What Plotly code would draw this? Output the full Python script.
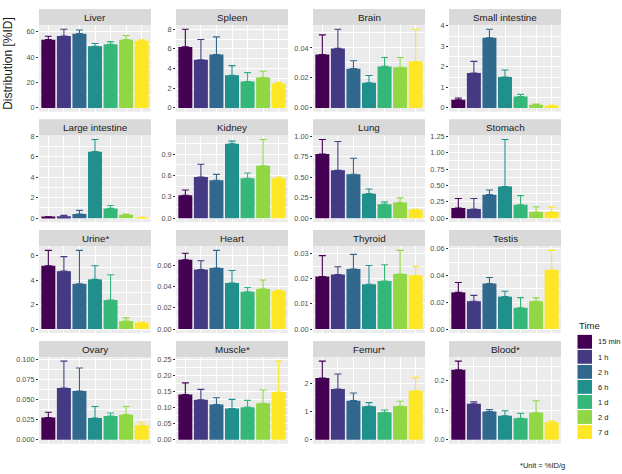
import plotly.graph_objects as go

W, H = 622, 474

times = ["15 min", "1 h", "2 h", "6 h", "1 d", "2 d", "7 d"]
colors = ["#440154", "#443A83", "#31688E", "#21908C", "#35B779", "#8FD744", "#FDE725"]

organs = ["Liver", "Spleen", "Brain", "Small intestine",
          "Large intestine", "Kidney", "Lung", "Stomach",
          "Urine*", "Heart", "Thyroid", "Testis",
          "Ovary", "Muscle*", "Femur*", "Blood*"]

liver_mean = [53.7, 56.6, 58.4, 48.5, 50.0, 53.7, 52.7]
liver_sd = [2.7, 5.3, 2.9, 2.1, 2.1, 3.2, 0.8]
spleen_mean = [6.2, 4.9, 5.42, 3.32, 2.68, 3.08, 2.47]
spleen_sd = [1.8, 2.05, 1.8, 0.98, 0.91, 0.65, 0.13]
brain_mean = [0.0356, 0.0397, 0.0262, 0.0168, 0.0277, 0.0271, 0.031]
brain_sd = [0.0131, 0.0128, 0.0053, 0.0048, 0.0059, 0.0065, 0.0215]
smallint_mean = [0.40, 1.70, 3.42, 1.51, 0.56, 0.16, 0.10]
smallint_sd = [0.08, 0.57, 0.42, 0.34, 0.10, 0.03, 0.03]
largeint_mean = [0.10, 0.19, 0.42, 6.5, 0.96, 0.35, 0.05]
largeint_sd = [0.03, 0.10, 0.35, 1.18, 0.29, 0.07, 0.05]
kidney_mean = [0.323, 0.581, 0.535, 1.048, 0.563, 0.738, 0.563]
kidney_sd = [0.074, 0.18, 0.083, 0.037, 0.074, 0.37, 0.017]
lung_mean = [0.784, 0.584, 0.536, 0.30, 0.172, 0.192, 0.104]
lung_sd = [0.176, 0.352, 0.196, 0.056, 0.028, 0.056, 0.006]
stomach_mean = [0.155, 0.14, 0.36, 0.485, 0.205, 0.095, 0.095]
stomach_sd = [0.145, 0.16, 0.07, 0.715, 0.14, 0.08, 0.075]
urine_mean = [5.17, 4.73, 3.69, 4.06, 2.37, 0.65, 0.51]
urine_sd = [1.26, 1.19, 2.74, 1.11, 2.07, 0.26, 0.06]
heart_mean = [0.0656, 0.0563, 0.0578, 0.0436, 0.0353, 0.038, 0.0362]
heart_sd = [0.0062, 0.0083, 0.0167, 0.0118, 0.004, 0.0084, 0.0008]
thyroid_mean = [0.0209, 0.0217, 0.0239, 0.0178, 0.0191, 0.0219, 0.0213]
thyroid_sd = [0.0083, 0.0031, 0.0058, 0.0075, 0.0065, 0.0094, 0.0037]
testis_mean = [0.0274, 0.0208, 0.034, 0.0242, 0.0159, 0.0208, 0.0441]
testis_sd = [0.0074, 0.0044, 0.0045, 0.004, 0.0076, 0.0025, 0.0147]
ovary_mean = [0.0278, 0.0645, 0.0608, 0.0273, 0.0298, 0.0314, 0.018]
ovary_sd = [0.0065, 0.0335, 0.0286, 0.0143, 0.0037, 0.0102, 0.004]
muscle_mean = [0.1406, 0.1245, 0.1094, 0.0974, 0.1014, 0.1135, 0.1486]
muscle_sd = [0.0361, 0.0321, 0.0211, 0.0281, 0.0211, 0.0411, 0.0954]
femur_mean = [2.18, 1.79, 1.38, 1.18, 0.97, 1.18, 1.73]
femur_sd = [0.59, 0.53, 0.27, 0.13, 0.08, 0.18, 0.47]
blood_mean = [0.238, 0.1225, 0.0966, 0.082, 0.073, 0.092, 0.0596]
blood_sd = [0.029, 0.0065, 0.0064, 0.017, 0.017, 0.0406, 0.0054]

means = [liver_mean, spleen_mean, brain_mean, smallint_mean,
         largeint_mean, kidney_mean, lung_mean, stomach_mean,
         urine_mean, heart_mean, thyroid_mean, testis_mean,
         ovary_mean, muscle_mean, femur_mean, blood_mean]
sds = [liver_sd, spleen_sd, brain_sd, smallint_sd,
       largeint_sd, kidney_sd, lung_sd, stomach_sd,
       urine_sd, heart_sd, thyroid_sd, testis_sd,
       ovary_sd, muscle_sd, femur_sd, blood_sd]

tick_steps = [20, 2, 0.02, 1,
              2, 0.3, 0.25, 0.25,
              2, 0.02, 0.01, 0.02,
              0.025, 0.05, 1, 0.1]
tick_formats = ["d", "d", ".2f", "d",
                "d", ".1f", ".2f", ".2f",
                "d", ".2f", ".2f", ".2f",
                ".3f", ".2f", "d", ".1f"]

y_title = "Distribution [%ID]"
legend_title = "Time"
footnote = "*Unit = %ID/g"

# layout geometry (pixels)
col_left = [39, 176, 313, 449]
panel_w = 112
row_top = [21.5, 133, 245, 357]
panel_h = 87.5
strip_h = 16.5

FONT = "Liberation Sans, Arial, sans-serif"

fig = go.Figure()
shapes = []
annotations = []

for i, organ in enumerate(organs):
    r, c = divmod(i, 4)
    n = i + 1
    xa = "x" if n == 1 else f"x{n}"
    ya = "y" if n == 1 else f"y{n}"
    m = means[i]
    s = sds[i]
    for k in range(7):
        fig.add_trace(go.Bar(
            x=[k + 1], y=[m[k]], width=0.9,
            marker=dict(color=colors[k], line=dict(width=0)),
            error_y=dict(type="data", symmetric=False, array=[s[k]], arrayminus=[0],
                         color=colors[k], thickness=1.1, width=3.5),
            xaxis=xa, yaxis=ya, showlegend=False, name=times[k],
        ))
    top = max(a + b for a, b in zip(m, s))
    x0 = col_left[c] / W
    x1 = (col_left[c] + panel_w) / W
    y1 = 1 - row_top[r] / H
    y0 = 1 - (row_top[r] + panel_h) / H
    step = tick_steps[i]
    fig.layout[f"xaxis{'' if n == 1 else n}"] = dict(
        domain=[x0, x1], anchor=ya, range=[0.4, 7.6],
        tickmode="array", tickvals=list(range(1, 8)), showticklabels=False,
        ticks="", showgrid=True, gridcolor="white", gridwidth=1,
        zeroline=False, showline=False, fixedrange=True,
    )
    fig.layout[f"yaxis{'' if n == 1 else n}"] = dict(
        domain=[y0, y1], anchor=xa, range=[-0.05 * top, 1.05 * top],
        tickmode="linear", tick0=0, dtick=step, tickformat=tick_formats[i],
        ticks="outside", ticklen=2, tickwidth=1, tickcolor="#333333",
        tickfont=dict(size=7.3, color="#4D4D4D", family=FONT),
        showgrid=True, gridcolor="white", gridwidth=1,
        minor=dict(tickmode="linear", tick0=0, dtick=step / 2, showgrid=True,
                   gridcolor="white", gridwidth=0.5, ticks=""),
        zeroline=False, showline=False, fixedrange=True,
    )
    # strip
    shapes.append(dict(type="rect", xref="paper", yref="paper",
                       x0=x0, x1=x1, y0=y1, y1=1 - (row_top[r] - strip_h) / H,
                       fillcolor="#D9D9D9", line=dict(width=0), layer="below"))
    annotations.append(dict(text=organ, xref="paper", yref="paper",
                            x=(x0 + x1) / 2, y=1 - (row_top[r] - strip_h / 2) / H,
                            xanchor="center", yanchor="middle", showarrow=False,
                            font=dict(size=9.8, color="#1A1A1A", family=FONT)))
    # panel background
    shapes.append(dict(type="rect", xref="paper", yref="paper",
                       x0=x0, x1=x1, y0=y0, y1=y1,
                       fillcolor="#EBEBEB", line=dict(width=0), layer="below"))

# y-axis title
annotations.append(dict(text=y_title, xref="paper", yref="paper",
                        x=8.5 / W, y=1 - 60 / H, textangle=-90,
                        xanchor="center", yanchor="middle", showarrow=False,
                        font=dict(size=12, color="#1A1A1A", family=FONT)))

# legend (drawn manually)
annotations.append(dict(text=legend_title, xref="paper", yref="paper",
                        x=577 / W, y=1 - 325 / H, xanchor="left", yanchor="middle",
                        showarrow=False, font=dict(size=9.5, color="#1A1A1A", family=FONT)))
key_top = 334
key_h = 15.2
for k, t in enumerate(times):
    ty = key_top + k * key_h
    shapes.append(dict(type="rect", xref="paper", yref="paper",
                       x0=577.5 / W, x1=592 / W,
                       y0=1 - (ty + key_h - 0.8) / H, y1=1 - (ty + 0.4) / H,
                       fillcolor=colors[k], line=dict(width=0)))
    annotations.append(dict(text=t, xref="paper", yref="paper",
                            x=596 / W, y=1 - (ty + key_h / 2) / H,
                            xanchor="left", yanchor="middle", showarrow=False,
                            font=dict(size=7.5, color="#1A1A1A", family=FONT)))

annotations.append(dict(text=footnote, xref="paper", yref="paper",
                        x=567 / W, y=1 - 466 / H, xanchor="right", yanchor="middle",
                        showarrow=False, font=dict(size=7.5, color="#1A1A1A", family=FONT)))

fig.update_layout(
    width=W, height=H, margin=dict(l=0, r=0, t=0, b=0),
    paper_bgcolor="white", plot_bgcolor="rgba(0,0,0,0)",
    barmode="overlay", shapes=shapes, annotations=annotations,
    font=dict(family=FONT),
)

fig.write_html(
    "out.html",
    config={"displayModeBar": False},
    post_script="document.body.style.margin='0';document.body.style.padding='0';"
                "document.body.style.overflow='hidden';",
)
